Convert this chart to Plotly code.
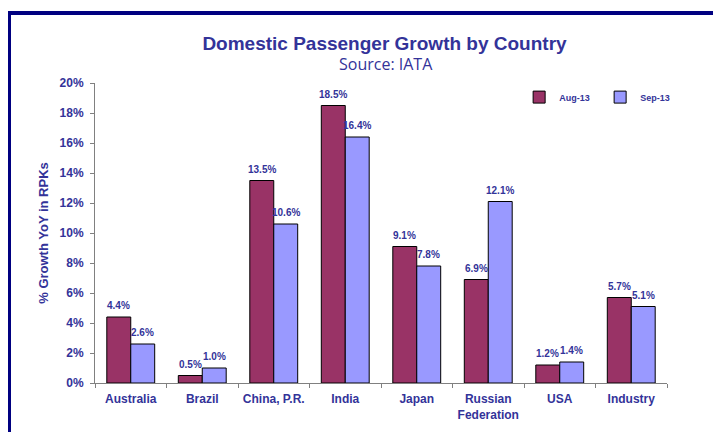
import plotly.graph_objects as go

categories = ["Australia", "Brazil", "China, P.R.", "India", "Japan",
              "Russian<br>Federation", "USA", "Industry"]
aug13 = [4.4, 0.5, 13.5, 18.5, 9.1, 6.9, 1.2, 5.7]
sep13 = [2.6, 1.0, 10.6, 16.4, 7.8, 12.1, 1.4, 5.1]
series_names = ["Aug-13", "Sep-13"]
y_ticks = [0, 2, 4, 6, 8, 10, 12, 14, 16, 18, 20]

TXT = "#333399"
FONT = "Liberation Sans, Arial, sans-serif"
OFF = 8  # page body offset

fig = go.Figure()
fig.add_trace(go.Bar(
    x=categories, y=aug13, name=series_names[0],
    marker=dict(color="#993366", line=dict(color="#000000", width=1)),
))
fig.add_trace(go.Bar(
    x=categories, y=sep13, name=series_names[1],
    marker=dict(color="#9999FF", line=dict(color="#000000", width=1)),
))

annotations = []
for vals, shift in ((aug13, -12), (sep13, 12)):
    for c, v in zip(categories, vals):
        annotations.append(dict(
            x=c, y=v, xref="x", yref="y", text=f"{v:.1f}%",
            showarrow=False, xshift=shift, yshift=4, yanchor="bottom",
            font=dict(family=FONT, size=10, color=TXT, weight="bold"),
        ))

annotations.append(dict(
    x=(386 - 95) / 572, y=(383 - 64) / 300, xref="paper", yref="paper",
    xanchor="center", yanchor="middle",
    text="Source: IATA", showarrow=False,
    font=dict(family="Open Sans, sans-serif", size=16, color=TXT),
))

shapes = [
    dict(type="line", xref="paper", yref="paper",
         x0=-95 / 572, x1=(730 - 95) / 572, y0=(383 - 13) / 300, y1=(383 - 13) / 300,
         line=dict(color="#000080", width=4)),
    dict(type="line", xref="paper", yref="paper",
         x0=(9 - 95) / 572, x1=(9 - 95) / 572, y0=(383 - 11) / 300, y1=-60 / 300,
         line=dict(color="#000080", width=4)),
]

fig.update_layout(
    width=721, height=432,
    margin=dict(l=95 - OFF, r=721 - (667 - OFF), t=83 - OFF, b=432 - (383 - OFF),
                autoexpand=False),
    paper_bgcolor="white", plot_bgcolor="white",
    barmode="group", bargap=0.33, bargroupgap=0,
    title=dict(text="Domestic Passenger Growth by Country", xref="container",
               x=(384.5 - OFF) / 721, xanchor="center", y=1 - (43 - OFF) / 432,
               yanchor="middle", automargin=False,
               font=dict(family=FONT, size=19, color=TXT, weight="bold")),
    font=dict(family=FONT, color=TXT),
    legend=dict(orientation="h", x=0.7415, y=0.953, xanchor="left", yanchor="middle",
                font=dict(family=FONT, size=9, color=TXT, weight="bold"),
                bgcolor="rgba(0,0,0,0)", entrywidth=36, entrywidthmode="pixels",
                itemwidth=30),
    annotations=annotations,
    shapes=shapes,
    xaxis=dict(
        automargin=False, tickangle=0,
        showline=True, linecolor="#808080", linewidth=1,
        ticks="outside", tickson="boundaries", ticklen=4, tickcolor="#808080",
        ticklabelstandoff=5,
        tickfont=dict(family=FONT, size=12, color=TXT, weight="bold"),
        showgrid=False,
    ),
    yaxis=dict(
        automargin=False,
        range=[0, 20], tickvals=y_ticks, ticktext=[f"{t}%" for t in y_ticks],
        showline=True, linecolor="#808080", linewidth=1,
        ticks="outside", ticklen=4, tickcolor="#808080",
        ticklabelstandoff=4,
        tickfont=dict(family=FONT, size=12, color=TXT, weight="bold"),
        showgrid=False, zeroline=False,
        title=dict(text="% Growth YoY in RPKs", standoff=8,
                   font=dict(family=FONT, size=13, color=TXT, weight="bold")),
    ),
)

fig.write_html("out.html")
